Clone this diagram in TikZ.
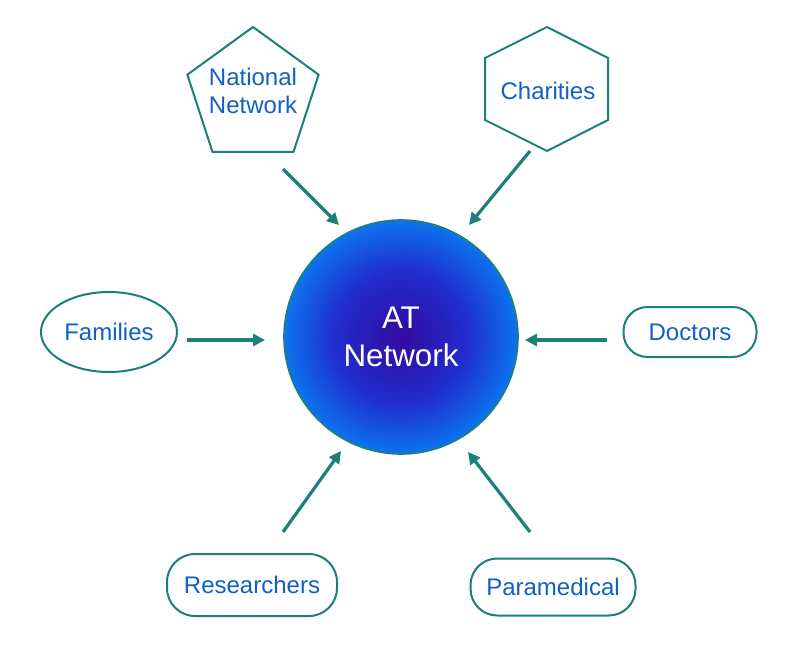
\documentclass[tikz,border=0pt]{standalone}
\usepackage{fontspec}
\setmainfont{Liberation Sans}
\usetikzlibrary{shapes.geometric,arrows.meta}
\definecolor{teal1}{RGB}{26,128,120}
\definecolor{lblue}{RGB}{18,96,196}
\definecolor{atin}{RGB}{50,10,160}
\definecolor{atmid}{RGB}{32,45,205}
\definecolor{atmid2}{RGB}{12,115,238}
\definecolor{atout}{RGB}{5,160,248}
\pgfdeclareradialshading{atshade}{\pgfpoint{0bp}{0bp}}{color(0bp)=(atin); color(14bp)=(atmid); color(25bp)=(atmid2); color(34bp)=(atout); color(100bp)=(atout)}
\tikzset{
  shapebox/.style={draw=teal1, line width=1.5pt, fill=white, inner sep=0pt, text=lblue, font=\fontsize{18}{21}\selectfont, align=center},
  labeltext/.style={text=lblue, font=\fontsize{18}{21}\selectfont, align=center, inner sep=0pt},
  arr/.style={draw=teal1, line width=2.4pt, -{Triangle[length=9pt,width=9pt]}},
}
\begin{document}
\begin{tikzpicture}[x=0.75pt,y=-0.75pt]
\useasboundingbox[fill=white] (0,0) rectangle (800,653);
% center circle
\node[circle, draw=teal1, line width=1.2pt, shading=atshade, minimum size=175.5pt, inner sep=0pt, text=white, font=\fontsize{23.5}{28.5}\selectfont, align=center] (at) at (401,337) {AT\\Network};
% outer nodes
\node[shapebox, regular polygon, regular polygon sides=5, minimum size=103.5pt] (nat) at (253,96) {};
\node[labeltext] (natt) at (253,91) {National\\Network};
\draw[draw=teal1, line width=1.5pt, fill=white] (547,27) -- (608,58) -- (608,120) -- (547,151) -- (485,120) -- (485,58) -- cycle;
\node[labeltext] (chat) at (548,91) {Charities};
\node[shapebox, ellipse, minimum width=102pt, minimum height=60pt] (fam) at (109,332) {Families};
\node[shapebox, rectangle, rounded corners=18pt, minimum width=99.75pt, minimum height=37.5pt] (doc) at (690,332) {Doctors};
\node[shapebox, rectangle, rounded corners=21pt, minimum width=127.5pt, minimum height=46.5pt] (res) at (252,585) {Researchers};
\node[shapebox, rectangle, rounded corners=20pt, minimum width=123.75pt, minimum height=42.75pt] (par) at (553,587) {Paramedical};
% arrow end points
\coordinate (n1) at (283,169); \coordinate (n2) at (339,225);
\coordinate (c1) at (530,151); \coordinate (c2) at (469,225);
\coordinate (f1) at (187,340); \coordinate (f2) at (265,340);
\coordinate (d1) at (607,340); \coordinate (d2) at (525,340);
\coordinate (r1) at (283,532); \coordinate (r2) at (341,451);
\coordinate (p1) at (530,532); \coordinate (p2) at (468,452);
\draw[arr] (n1) -- (n2);
\draw[arr] (c1) -- (c2);
\draw[arr] (f1) -- (f2);
\draw[arr] (d1) -- (d2);
\draw[arr] (r1) -- (r2);
\draw[arr] (p1) -- (p2);
\end{tikzpicture}
\end{document}
